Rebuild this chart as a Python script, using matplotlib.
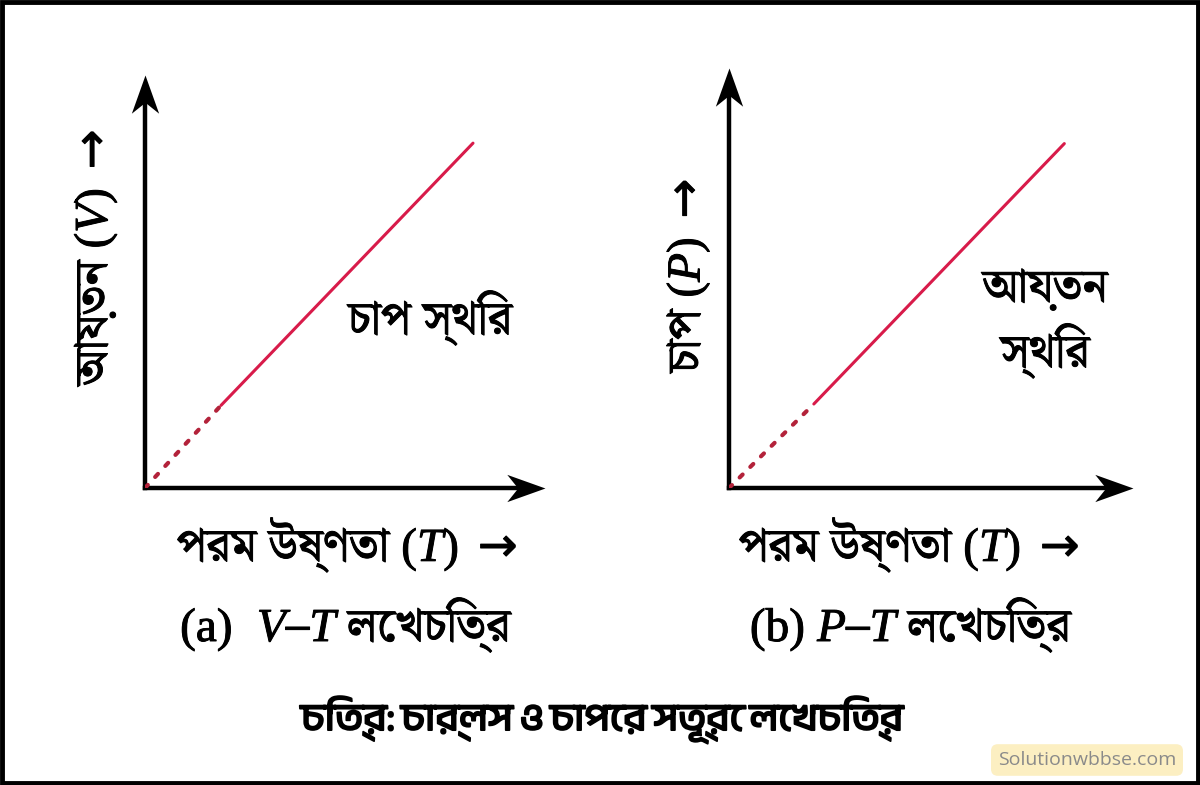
import matplotlib
matplotlib.use("Agg")
import matplotlib.pyplot as plt
from matplotlib import font_manager as fm
from matplotlib.patches import Rectangle
from matplotlib.path import Path
import matplotlib.patheffects as pe

# ---------------- data ----------------
T_dotted_a = [0.0, 0.19]
V_dotted_a = [0.0, 0.20]
T_solid_a = [0.19, 0.82]
V_solid_a = [0.20, 0.835]

T_dotted_b = [0.0, 0.21]
P_dotted_b = [0.0, 0.20]
T_solid_b = [0.21, 0.83]
P_solid_b = [0.20, 0.82]

ylabel_a = r"আয়তন $(V)$ $\mathsf{\rightarrow}$"
ylabel_b = r"চাপ $(P)$ $\mathsf{\rightarrow}$"
xlabel = r"পরম উষ্ণতা $(T)$ $\mathsf{\rightarrow}$"
note_a = "চাপ স্থির"
note_b = "আয়তন\nস্থির"
caption_a = r"$\mathrm{(a)}$  $V$–$T$ লেখচিত্র"
caption_b = r"$\mathrm{(b)}$ $P$–$T$ লেখচিত্র"
title = "চিত্র: চার্লস ও চাপের সূত্রে লেখচিত্র"
watermark = "Solutionwbbse.com"

# ---------------- fonts ----------------
names = sorted({f.name for f in fm.fontManager.ttflist})
beng = [n for n in names if "Bengali" in n or "Bangla" in n or "Lohit" in n]
beng_serif = [n for n in beng if "Serif" in n] + [n for n in beng if "Serif" not in n]
beng_sans = [n for n in beng if "Serif" not in n] + [n for n in beng if "Serif" in n]
fam = beng_serif + ["Liberation Serif", "DejaVu Sans"]
fam_bold = beng_sans + ["DejaVu Sans"]
plt.rcParams["font.family"] = fam
plt.rcParams["mathtext.fontset"] = "custom"
plt.rcParams["mathtext.it"] = "Liberation Serif:italic"
plt.rcParams["mathtext.rm"] = "Liberation Serif"
plt.rcParams["mathtext.sf"] = "DejaVu Sans"

W, H = 1200, 785
fig = plt.figure(figsize=(W / 100, H / 100), dpi=100)
fig.patch.set_facecolor("white")

# outer border
fig.add_artist(Rectangle((0.002, 0.003), 0.996, 0.994, transform=fig.transFigure,
                         fill=False, lw=3.5, ec="black"))

red = "#d81b4a"
dotred = "#b3223a"

# stealth-like arrow head, tip at the origin
head_right = Path([(0, 0), (-1.4, 0.5), (-1.0, 0), (-1.4, -0.5), (0, 0)],
                  [Path.MOVETO, Path.LINETO, Path.LINETO, Path.LINETO, Path.CLOSEPOLY])
head_up = Path([(0, 0), (0.5, -1.4), (0, -1.0), (-0.5, -1.4), (0, 0)],
               [Path.MOVETO, Path.LINETO, Path.LINETO, Path.LINETO, Path.CLOSEPOLY])


def panel(x0, y0, w, h, Td, Yd, Ts, Ys):
    ax = fig.add_axes([x0 / W, 1 - y0 / H, w / W, h / H])
    ax.set_xlim(0, 1)
    ax.set_ylim(0, 1)
    ax.axis("off")
    ax.plot([0, 0.96], [0, 0], lw=3.2, color="black", clip_on=False,
            solid_capstyle="projecting")
    ax.plot([0, 0], [0, 0.96], lw=3.2, color="black", clip_on=False,
            solid_capstyle="projecting")
    ax.plot([1], [0], marker=head_right, ms=55, color="black", mew=0, clip_on=False)
    ax.plot([0], [1], marker=head_up, ms=55, color="black", mew=0, clip_on=False)
    ax.plot(Td, Yd, ls=(0, (1, 2.6)), lw=3, color=dotred, dash_capstyle="round")
    ax.plot(Ts, Ys, lw=2.2, color=red, solid_capstyle="round")
    return ax


ax_a = panel(145, 488, 400, 413, T_dotted_a, V_dotted_a, T_solid_a, V_solid_a)
ax_b = panel(729, 488, 404, 420, T_dotted_b, P_dotted_b, T_solid_b, P_solid_b)

fs = 34
thick = [pe.withStroke(linewidth=0.7, foreground="black")]
kw = dict(ha="center", va="center", fontsize=fs, path_effects=thick)
# y labels
fig.text(95 / W, 1 - 257 / H, ylabel_a, rotation=90, **kw)
fig.text(688 / W, 1 - 275 / H, ylabel_b, rotation=90, **kw)
# notes
fig.text(430 / W, 1 - 318 / H, note_a, **kw)
fig.text(1045 / W, 1 - 322 / H, note_b, linespacing=1.25, **kw)
# x labels
fig.text(347 / W, 1 - 545 / H, xlabel, **kw)
fig.text(909 / W, 1 - 545 / H, xlabel, **kw)
# captions
fig.text(347 / W, 1 - 625 / H, caption_a, **kw)
fig.text(912 / W, 1 - 625 / H, caption_b, **kw)
# title
fig.text(602 / W, 1 - 720 / H, title, ha="center", va="center", fontsize=28,
         fontweight="bold", family=fam_bold,
         path_effects=[pe.withStroke(linewidth=1.3, foreground="black")])
# watermark
fig.text(1087 / W, 1 - 760 / H, watermark, ha="center", va="center", fontsize=14,
         color="#8a8a8a", family=["Open Sans", "DejaVu Sans"],
         bbox=dict(boxstyle="round,pad=0.35", fc="#fcefc2", ec="none"))

fig.savefig("out.png", dpi=100, facecolor="white")
